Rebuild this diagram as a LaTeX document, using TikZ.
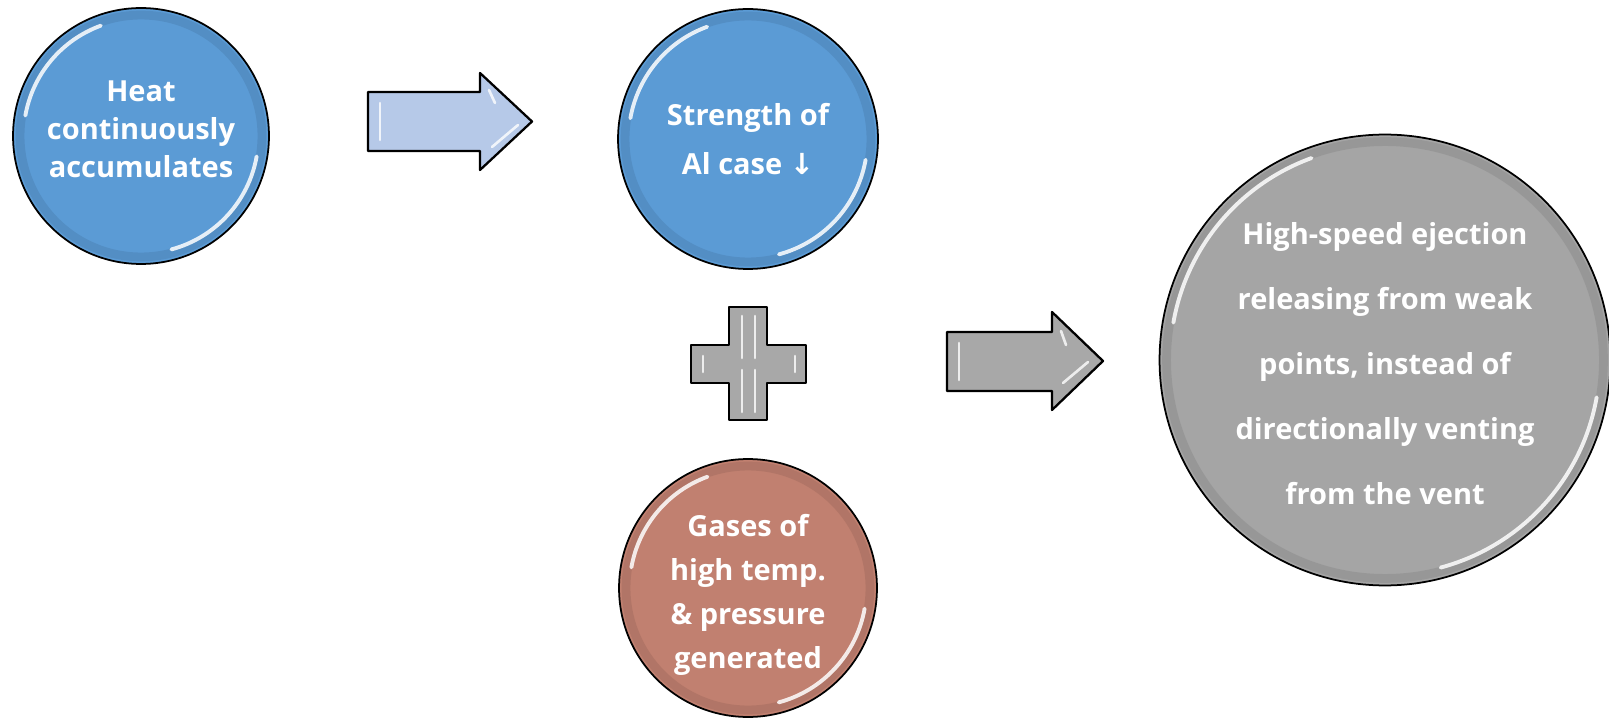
\documentclass[tikz,border=0pt]{standalone}
\usepackage{fontspec}
\setmainfont{Open Sans}
\newfontfamily\arrowfont{DejaVu Sans}
\definecolor{bubbleblue}{RGB}{91,155,213}
\definecolor{bubblered}{RGB}{193,128,112}
\definecolor{bubblegray}{RGB}{165,165,165}
\definecolor{arrowblue}{RGB}{182,201,232}
\definecolor{arrowgray}{RGB}{168,168,168}

\begin{document}
\begin{tikzpicture}[x=0.02cm, y=-0.02cm, align=center, text=white]
    \tikzstyle{bubble} = [circle, draw=black, line width=1pt, inner sep=0pt]
    \tikzstyle{gloss} = [white, line width=2.2pt, line cap=round, opacity=0.85]
    \tikzstyle{block} = [draw=black, line width=1.3pt, line join=round]
    \tikzstyle{bevel} = [white, line width=1.5pt, line cap=round, opacity=0.8]

    \useasboundingbox (0,0) rectangle (1609,719);

    \node (heat) at (141,136) [bubble, fill=bubbleblue, minimum size=5.12cm,
        font=\bfseries\fontsize{16.5}{21.6}\selectfont] {};
    \node at (heat.center) [yshift=0.14cm, font=\bfseries\fontsize{16.5}{21.6}\selectfont]
        (heattext) {Heat\\continuously\\accumulates};
    \node (strength) at (748,139) [bubble, fill=bubbleblue, minimum size=5.2cm,
        font=\bfseries\fontsize{16.5}{28}\selectfont] {Strength of\\Al case {\arrowfont ↓}};
    \node (gases) at (748,588) [bubble, fill=bubblered, minimum size=5.16cm] {};
    \node at (gases.center) [yshift=-0.14cm, font=\bfseries\fontsize{16.5}{25}\selectfont]
        (gasestext) {Gases of\\high temp.\\\& pressure\\generated};
    \node (eject) at (1385,360) [bubble, fill=bubblegray, minimum size=9.02cm] {};
    \node at (eject.center) [yshift=-0.08cm, font=\bfseries\fontsize{16.5}{37}\selectfont]
        (ejecttext) {High-speed ejection\\releasing from weak\\points, instead of\\directionally venting\\from the vent};

    \foreach \n/\r/\c in {heat/2.56/bubbleblue, strength/2.6/bubbleblue, gases/2.58/bubblered, eject/4.51/bubblegray} {
        \draw [\c!60!black, line width=5pt, opacity=0.2] (\n.center) circle [radius=\r cm - 4pt];
        \draw [gloss] (\n.center) ++(110:\r cm - 6pt) arc [start angle=110, end angle=170, radius=\r cm - 6pt];
        \draw [gloss] (\n.center) ++(-75:\r cm - 6pt) arc [start angle=-75, end angle=-10, radius=\r cm - 6pt];
    }

    \draw [block, fill=arrowblue] (368,92) -- (480,92) -- (480,73) -- (532,121.5)
        -- (480,170) -- (480,151) -- (368,151) -- cycle;
    \draw [bevel] (380,103) -- (380,140);
    \draw [bevel] (489,90) -- (495,103);
    \draw [bevel] (492,147) -- (518,125);

    \draw [block, fill=arrowgray] (729,307) -- (767,307) -- (767,345) -- (806,345)
        -- (806,383) -- (767,383) -- (767,420) -- (729,420) -- (729,383)
        -- (691,383) -- (691,345) -- (729,345) -- cycle;
    \draw [bevel] (742,316) -- (742,358);
    \draw [bevel] (755,316) -- (755,358);
    \draw [bevel] (742,370) -- (742,412);
    \draw [bevel] (755,370) -- (755,412);
    \draw [bevel] (703,356) -- (703,372);
    \draw [bevel] (795,356) -- (795,372);

    \draw [block, fill=arrowgray] (947,332) -- (1052,332) -- (1052,312) -- (1103,361)
        -- (1052,410) -- (1052,391) -- (947,391) -- cycle;
    \draw [bevel] (959,343) -- (959,380);
    \draw [bevel] (1061,331) -- (1066,345);
    \draw [bevel] (1063,383) -- (1088,362);
\end{tikzpicture}
\end{document}
